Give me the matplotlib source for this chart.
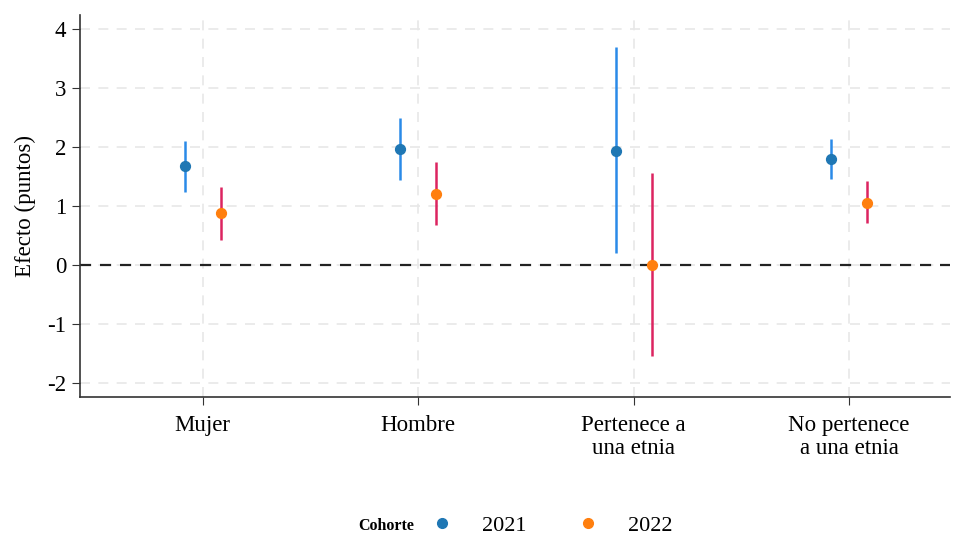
import numpy as np
import matplotlib.pyplot as plt
from matplotlib.lines import Line2D

plt.rcParams['font.family'] = ['Liberation Serif', 'DejaVu Serif']
plt.rcParams['axes.unicode_minus'] = False

# DATA
grupos = ["Mujer", "Hombre", "Pertenece a\nuna etnia", "No pertenece\na una etnia"]

est_2021 = [1.68, 1.97, 1.93, 1.80]
low_2021 = [1.24, 1.44, 0.20, 1.46]
high_2021 = [2.10, 2.49, 3.69, 2.14]

est_2022 = [0.88, 1.21, 0.00, 1.05]
low_2022 = [0.42, 0.68, -1.54, 0.71]
high_2022 = [1.32, 1.74, 1.56, 1.42]

# FIGURE
fig = plt.figure(figsize=(9.6, 5.35), dpi=100)
ax = fig.add_axes([0.083, 0.258, 0.907, 0.714])

x = np.arange(len(grupos))
off = 0.084

ax.vlines(x - off, low_2021, high_2021, color="#2a8ae8", lw=1.8, zorder=3)
ax.scatter(x - off, est_2021, color="#1f77b4", s=50, zorder=4)
ax.vlines(x + off, low_2022, high_2022, color="#dc2460", lw=1.8, zorder=3)
ax.scatter(x + off, est_2022, color="#ff7f0e", s=50, zorder=4)

ax.axhline(0, color="#222222", lw=1.6, ls=(0, (5, 4)), zorder=2)

ax.set_xlim(-0.571, 3.47)
ax.set_ylim(-2.24, 4.24)
ax.set_xticks(x)
ax.set_xticklabels(grupos, fontsize=16.5, linespacing=1.1)
ax.set_yticks(np.arange(-2, 5, 1))
ax.tick_params(axis="both", labelsize=16.5, length=6, color="#333333", direction="out")
ax.tick_params(axis="x", pad=7)
ax.set_ylabel("Efecto (puntos)", fontsize=16.5, labelpad=8)

ax.grid(True, color="#e8e8e8", lw=1.2, ls=(0, (6, 5)), zorder=0)
ax.set_axisbelow(True)
for s in ["top", "right"]:
    ax.spines[s].set_visible(False)
for s in ["left", "bottom"]:
    ax.spines[s].set_color("#333333")
    ax.spines[s].set_linewidth(1.2)

# LEGEND
fig.text(0.402, 0.017, "Cohorte", fontsize=11.5, fontweight="bold", ha="center", va="center")
handles = [
    Line2D([], [], ls="none", marker="o", color="#1f77b4", markersize=7),
    Line2D([], [], ls="none", marker="o", color="#ff7f0e", markersize=7),
]
fig.legend(handles, ["2021", "2022"], loc="center", bbox_to_anchor=(0.569, 0.017),
           ncol=2, frameon=False, fontsize=16, handletextpad=0.8, columnspacing=1.77,
           borderpad=0, borderaxespad=0)

fig.savefig("out.png", dpi=100)
